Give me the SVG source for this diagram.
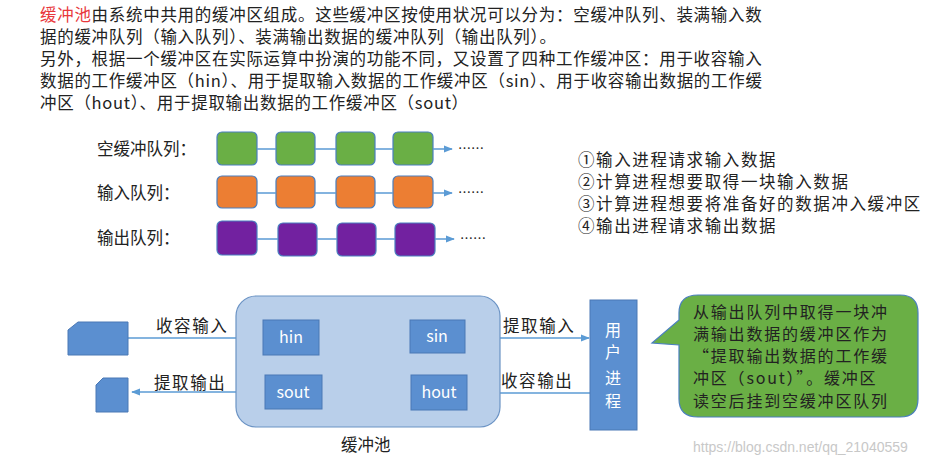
<svg xmlns="http://www.w3.org/2000/svg" width="947" height="466" viewBox="0 0 947 466">
<defs>
<style>
text{font-family:"Noto Sans CJK SC","Noto Sans",sans-serif;fill:#222}
.t{font-size:16.5px}
.top{letter-spacing:0.7px}
.lst{letter-spacing:1.6px}
.q{stroke:#4a7fbf;stroke-width:1.2}
.g{fill:#6aaf45}.o{fill:#ec7e33}.p{fill:#7221a0}
.c{stroke:#5b9bd5;stroke-width:1.5;fill:none;marker-end:url(#a)}
.b{fill:#5b8fd0;stroke:#4a78b5}
.w{fill:#fff;font-size:16px}
</style>
<marker id="a" viewBox="0 0 10 10" refX="9" refY="5" markerWidth="6" markerHeight="6" orient="auto"><path d="M0,1L10,5L0,9z" fill="#5b9bd5"/></marker>
</defs>
<rect width="947" height="466" fill="#fff"/>
<g class="t top">
<text x="40" y="21"><tspan fill="#e8373c">缓冲池</tspan>由系统中共用的缓冲区组成。这些缓冲区按使用状况可以分为：空缓冲队列、装满输入数</text>
<text x="40" y="43">据的缓冲队列（输入队列）、装满输出数据的缓冲队列（输出队列）。</text>
<text x="40" y="65">另外，根据一个缓冲区在实际运算中扮演的功能不同，又设置了四种工作缓冲区：用于收容输入</text>
<text x="40" y="87">数据的工作缓冲区（hin）、用于提取输入数据的工作缓冲区（sin）、用于收容输出数据的工作缓</text>
<text x="40" y="109">冲区（hout）、用于提取输出数据的工作缓冲区（sout）</text>
</g>
<g id="queues">
<text x="97" y="155" class="t">空缓冲队列：</text>
<text x="97" y="199" class="t">输入队列：</text>
<text x="97" y="244" class="t">输出队列：</text>
<g class="q">
<rect class="g" x="217" y="132" width="40" height="33" rx="5"/><rect class="g" x="276" y="132" width="39" height="33" rx="5"/><rect class="g" x="336" y="132" width="39" height="33" rx="5"/><rect class="g" x="393" y="132" width="40" height="33" rx="5"/>
<rect class="o" x="217" y="176" width="40" height="32" rx="5"/><rect class="o" x="276" y="176" width="39" height="32" rx="5"/><rect class="o" x="336" y="176" width="39" height="32" rx="5"/><rect class="o" x="393" y="176" width="40" height="32" rx="5"/>
<rect class="p" x="217" y="221" width="40" height="34" rx="5"/><rect class="p" x="278" y="223" width="39" height="33" rx="5"/><rect class="p" x="337" y="223" width="39" height="33" rx="5"/><rect class="p" x="395" y="223" width="40" height="33" rx="5"/>
</g>
</g>
<g id="connectors">
<path class="c" d="M257,149H276M315,149H336M375,149H393M433,149H452"/>
<path class="c" d="M257,193H276M315,193H336M375,193H393M433,193H452"/>
<path class="c" d="M257,239H278M317,239H337M376,239H395M435,239H454"/>
<path class="c" d="M128,338H263"/>
<path class="c" d="M265,392H132"/>
<path class="c" d="M465,338H589"/>
<path class="c" d="M590,393H468"/>
</g>
<text x="458" y="153" font-size="13">……</text>
<text x="458" y="197" font-size="13">……</text>
<text x="460" y="243" font-size="13">……</text>
<g class="t lst">
<text x="578" y="166">①输入进程请求输入数据</text>
<text x="578" y="188">②计算进程想要取得一块输入数据</text>
<text x="578" y="210">③计算进程想要将准备好的数据冲入缓冲区</text>
<text x="578" y="232">④输出进程请求输出数据</text>
</g>
<g id="pool"><rect x="236" y="296" width="264" height="131" rx="20" fill="#b9cfea" stroke="#6b93c4" stroke-width="1.2"/>
<text x="341" y="451" class="t">缓冲池</text></g>
<g id="hin"><rect class="b" x="263" y="320" width="56" height="35"/><text class="w" x="291" y="343" text-anchor="middle">hin</text></g>
<g id="sin"><rect class="b" x="410" y="320" width="55" height="33"/><text class="w" x="437" y="342" text-anchor="middle">sin</text></g>
<g id="sout"><rect class="b" x="265" y="375" width="57" height="34"/><text class="w" x="293" y="398" text-anchor="middle">sout</text></g>
<g id="hout"><rect class="b" x="411" y="375" width="56" height="35"/><text class="w" x="439" y="398" text-anchor="middle">hout</text></g>
<g id="user"><rect class="b" x="590" y="300" width="47" height="130"/>
<text class="w" x="613" y="336" text-anchor="middle">用</text><text class="w" x="613" y="358" text-anchor="middle">户</text><text class="w" x="613" y="384" text-anchor="middle">进</text><text class="w" x="613" y="407" text-anchor="middle">程</text></g>
<g id="in-dev"><path class="b" d="M78,322H128V355H68V330z"/></g>
<g id="out-dev"><path class="b" d="M103,378H128V412H96V385z"/></g>
<text x="156" y="332" class="t lst">收容输入</text>
<text x="154" y="389" class="t lst">提取输出</text>
<text x="503" y="332" class="t lst">提取输入</text>
<text x="501" y="387" class="t lst">收容输出</text>
<g id="bubble"><path d="M698,295H900Q918,295 918,313V399Q918,417 900,417H698Q679,417 679,399V345L652,343L679,320V313Q679,295 698,295z" fill="#6aaf45" stroke="#4a7fbf" stroke-width="1.2"/>
<g class="w" font-size="15.5" style="letter-spacing:1.8px"><text x="693" y="318">从输出队列中取得一块冲</text><text x="693" y="340">满输出数据的缓冲区作为</text><text x="693" y="362">“提取输出数据的工作缓</text><text x="693" y="384">冲区（sout）”。缓冲区</text><text x="693" y="407">读空后挂到空缓冲区队列</text></g></g>
<text x="693" y="452" font-size="14" style="fill:#c8c8c8;font-family:'Liberation Sans',sans-serif">https://blog.csdn.net/qq_21040559</text>
</svg>
